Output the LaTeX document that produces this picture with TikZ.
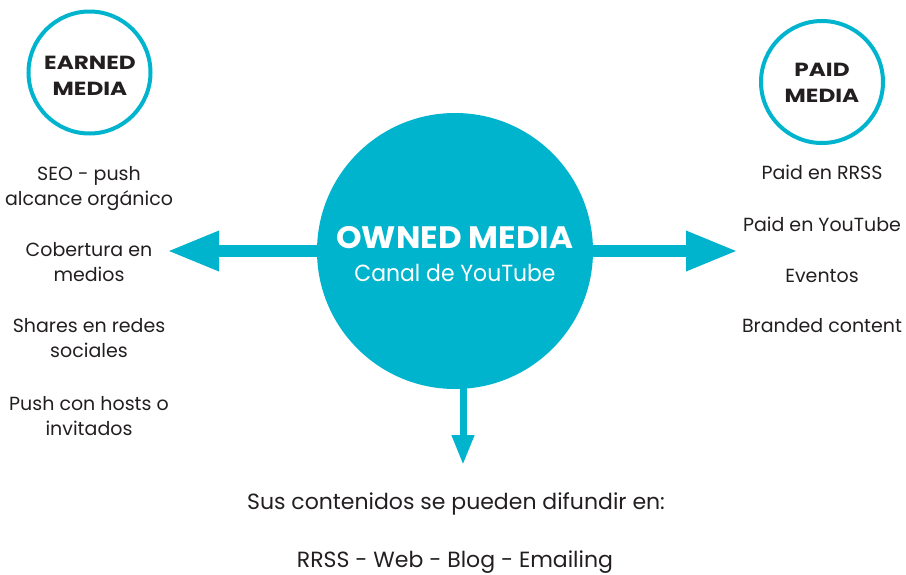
\documentclass[tikz,border=0pt]{standalone}
\usepackage{fontspec}
\setmainfont{Poppins}
\newfontfamily\ringfont[FakeStretch=1.22]{Poppins}
\newfontfamily\ownedfont[FakeStretch=1.05]{Poppins}
\newfontfamily\canalfont[FakeStretch=0.94]{Poppins}
\usetikzlibrary{arrows.meta}
\definecolor{mcyan}{HTML}{00B4CE}
\definecolor{mtext}{HTML}{231F20}
\tikzset{
  body/.style={font=\fontsize{19}{24.5}\selectfont, text=mtext, align=center, anchor=base, inner sep=0pt},
  bottomtext/.style={font=\fontsize{22}{26}\selectfont, text=mtext, anchor=base, inner sep=0pt},
  ring/.style={circle, draw=mcyan, line width=4pt, minimum size=122pt, inner sep=0pt},
  ringtitle/.style={font=\ringfont\fontsize{19}{26}\selectfont\bfseries, text=mtext, align=center, anchor=base, inner sep=0pt},
  bigarrow/.style={draw=mcyan, line width=12pt, -{Triangle[length=52pt,width=37pt]}},
  downarrow/.style={draw=mcyan, line width=7pt, -{Triangle[length=30pt,width=21pt]}}
}
\begin{document}
\begin{tikzpicture}[x=1pt,y=-1pt]
\useasboundingbox (0,0) rectangle (906,574);
% central circle
\node[circle, fill=mcyan, minimum size=276pt, inner sep=0pt] (owned) at (455,251) {};
\node[font=\ownedfont\fontsize{31}{32}\selectfont\bfseries, text=white, anchor=base, inner sep=0pt] (ownedt) at (455,248) {OWNED MEDIA};
\node[font=\canalfont\fontsize{23.3}{26}\selectfont, text=white, anchor=base, inner sep=0pt] (canal) at (455,281) {Canal de YouTube};
% rings
\node[ring] (earned) at (89.5,72.5) {};
\node[ringtitle] (earnedt) at (90,95) {EARNED\\MEDIA};
\node[ring] (paid) at (822,82) {};
\node[ringtitle] (paidt) at (822,102) {PAID\\MEDIA};
% left texts
\node[body] (l1) at (89,205) {SEO - push\\alcance orgánico};
\node[body] (l2) at (89,281) {Cobertura en\\medios};
\node[body] (l3) at (89,357) {Shares en redes\\sociales};
\node[body] (l4) at (89,435) {Push con hosts o\\invitados};
% right texts
\node[body] (r1) at (822,179) {Paid en RRSS};
\node[body] (r2) at (822,231) {Paid en YouTube};
\node[body] (r3) at (822,282) {Eventos};
\node[body] (r4) at (822,332) {Branded content};
% bottom texts
\node[bottomtext] (b1) at (456,509) {Sus contenidos se pueden difundir en:};
\node[bottomtext] (b2) at (455,567) {RRSS - Web - Blog - Emailing};
% arrows
\coordinate (ltip) at (167,251);
\coordinate (rtip) at (738,251);
\coordinate (dtip) at (463,465);
\draw[bigarrow] (owned.west) -- (ltip);
\draw[bigarrow] (owned.east) -- (rtip);
\draw[downarrow] (dtip |- owned.south) ++(0,-3) -- (dtip);
\end{tikzpicture}
\end{document}
